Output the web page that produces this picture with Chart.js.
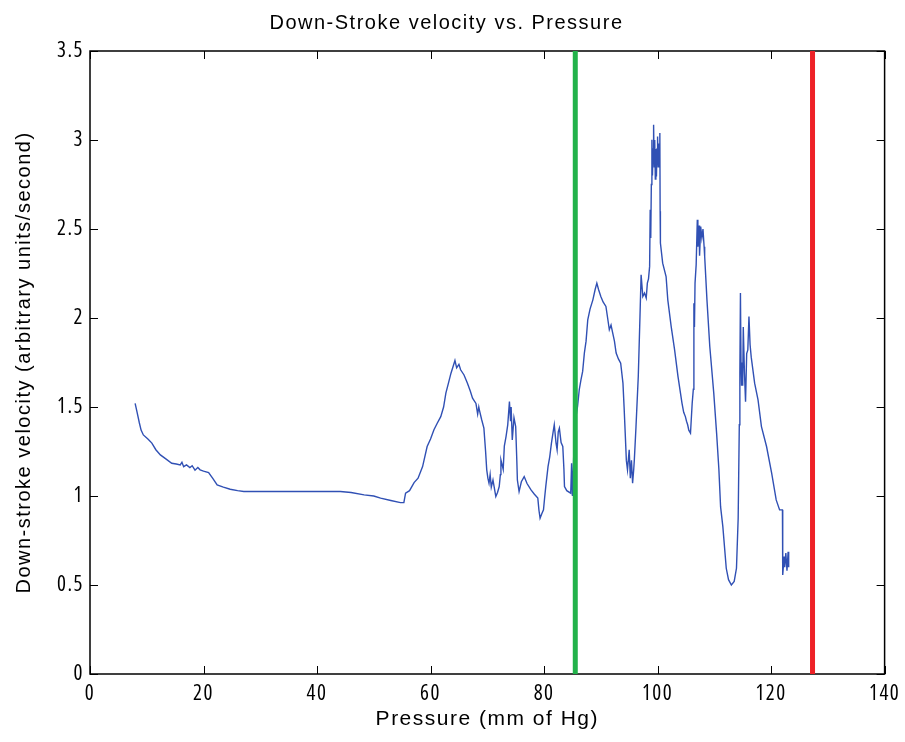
<!DOCTYPE html>
<html>
<head>
<meta charset="utf-8">
<title>Down-Stroke velocity vs. Pressure</title>
<script src="https://cdn.jsdelivr.net/npm/chart.js@4/dist/chart.umd.min.js"></script>
<style>
  html, body { margin: 0; padding: 0; background: #ffffff; }
  #wrap { width: 905px; height: 742px; }
</style>
</head>
<body>
<div id="wrap"><canvas id="velocityChart" width="905" height="742"></canvas></div>
<script>
  "use strict";

  // Pressure (mm of Hg) samples
  const pressure = [
    7.95, 8.3, 8.7, 9.0, 9.4, 10.2, 10.9, 11.6, 12.4, 13.3, 14.4, 15.2, 15.9, 16.2, 16.5, 17.0, 17.6, 18.0,
    18.5, 19.0, 19.4, 20.0, 20.9, 21.6, 22.4, 23.5, 24.7, 26.0, 27.1, 44.1, 46.0, 48.3, 50.0, 51.2, 53.0,
    54.7, 55.3, 55.6, 56.3, 57.1, 57.8, 58.6, 59.4, 60.0, 60.6, 61.2, 61.8, 62.3, 62.7, 63.2, 63.6, 64.0,
    64.3, 64.6, 65.0, 65.3, 65.9, 66.5, 67.0, 67.4, 68.0, 68.3, 68.5, 68.6, 69.0, 69.4, 69.7, 69.9, 70.1,
    70.3, 70.5, 70.7, 71.0, 71.2, 71.5, 71.8, 72.1, 72.3, 72.4, 72.8, 73.0, 73.3, 73.6, 73.9, 74.1, 74.2,
    74.4, 74.7, 75.0, 75.2, 75.3, 75.6, 76.0, 76.5, 77.0, 77.7, 78.3, 78.9, 79.1, 79.3, 79.6, 79.9, 80.1,
    80.3, 80.7, 81.0, 81.3, 81.6, 81.8, 82.1, 82.3, 82.5, 82.7, 83.0, 83.3, 83.5, 83.6, 84.0, 84.7, 84.85,
    85.0, 85.4, 85.9, 86.2, 86.5, 86.8, 87.1, 87.4, 87.7, 88.1, 88.6, 89.0, 89.3, 89.6, 90.0, 90.4, 90.9,
    91.2, 91.5, 91.8, 92.1, 92.4, 92.7, 93.1, 93.5, 93.9, 94.1, 94.3, 94.5, 94.7, 95.0, 95.2, 95.4, 95.6,
    95.8, 95.9, 96.2, 96.6, 96.9, 97.1, 97.4, 97.7, 98.0, 98.2, 98.4, 98.6, 98.7, 98.8, 98.9, 99.0, 99.1,
    99.2, 99.3, 99.4, 99.5, 99.6, 99.7, 99.8, 99.9, 100.0, 100.1, 100.2, 100.3, 100.4, 100.45, 100.5, 100.9,
    101.5, 101.8, 102.4, 103.0, 103.6, 104.3, 104.6, 104.9, 105.1, 105.3, 105.5, 105.8, 106.1, 106.3, 106.4,
    106.5, 106.6, 106.8, 107.0, 107.1, 107.3, 107.4, 107.6, 107.8, 108.0, 108.2, 108.3, 108.7, 109.2, 109.9,
    110.4, 110.8, 111.1, 111.5, 112.1, 112.5, 113.0, 113.5, 113.9, 114.2, 114.4, 114.5, 114.6, 114.7, 114.8,
    114.9, 115.0, 115.1, 115.3, 115.5, 115.7, 115.9, 116.1, 116.3, 116.5, 117.1, 117.7, 118.3, 119.2, 120.1,
    120.9, 121.5, 122.0, 122.05, 122.3, 122.4, 122.6, 122.8, 123.0, 123.1
  ];

  // Down-stroke velocity (arbitrary units/second)
  const velocity = [
    1.52, 1.47, 1.41, 1.37, 1.343, 1.32, 1.297, 1.26, 1.231, 1.21, 1.184, 1.18, 1.175, 1.19, 1.165, 1.175, 1.16, 1.17,
    1.145, 1.16, 1.147, 1.14, 1.132, 1.10, 1.062, 1.05, 1.038, 1.03, 1.025, 1.025, 1.02, 1.006, 1.0, 0.988, 0.975,
    0.963, 0.963, 1.016, 1.03, 1.075, 1.10, 1.165, 1.278, 1.32, 1.372, 1.41, 1.446, 1.50, 1.578, 1.64, 1.69, 1.73,
    1.761, 1.72, 1.74, 1.709, 1.68, 1.634, 1.59, 1.55, 1.52, 1.46, 1.50, 1.484, 1.43, 1.381, 1.25, 1.147, 1.10,
    1.072, 1.12, 1.05, 1.09, 1.053, 0.997, 1.02, 1.053, 1.12, 1.203, 1.15, 1.28, 1.334, 1.40, 1.531, 1.42, 1.50,
    1.315, 1.44, 1.39, 1.20, 1.09, 1.025, 1.08, 1.109, 1.07, 1.034, 1.01, 0.988, 0.92, 0.875, 0.90, 0.922, 0.99,
    1.053, 1.165, 1.22, 1.297, 1.36, 1.40, 1.30, 1.259, 1.36, 1.381, 1.30, 1.278, 1.15, 1.053, 1.03, 1.016, 1.184,
    1.0, 1.40, 1.503, 1.597, 1.653, 1.70, 1.803, 1.87, 1.99, 2.05, 2.102, 2.16, 2.196, 2.16, 2.121, 2.09, 2.065,
    2.00, 1.934, 1.96, 1.915, 1.87, 1.803, 1.77, 1.746, 1.634, 1.50, 1.353, 1.20, 1.147, 1.26, 1.10, 1.20, 1.072,
    1.15, 1.20, 1.39, 1.671, 2.008, 2.243, 2.121, 2.14, 2.112, 2.196, 2.22, 2.29, 2.608, 2.45, 2.75, 3.002, 2.80,
    2.95, 3.086, 2.85, 3.00, 2.78, 2.95, 2.795, 2.95, 3.02, 2.85, 2.98, 2.88, 3.039, 2.60, 2.421, 2.308,
    2.233, 2.102, 1.952, 1.821, 1.671, 1.522, 1.47, 1.446, 1.42, 1.40, 1.37, 1.353, 1.522, 1.60, 2.083,
    1.95, 2.196, 2.30, 2.552, 2.40, 2.52, 2.35, 2.514, 2.45, 2.50, 2.40, 2.345, 2.102, 1.84, 1.578,
    1.353, 1.15, 0.94, 0.828, 0.594, 0.53, 0.50, 0.52, 0.594, 0.875, 1.40, 1.69, 2.14, 1.75, 1.62,
    1.75, 1.62, 1.95, 1.70, 1.53, 1.80, 1.821, 2.008, 1.85, 1.78, 1.634, 1.540, 1.39, 1.278, 1.128,
    0.978, 0.922, 0.922, 0.556, 0.66, 0.60, 0.68, 0.58, 0.687, 0.60
  ];

  // Threshold markers (mm of Hg)
  const greenMarker = 85.5;
  const redMarker = 127.3;

  // Axis tick values
  const xTicks = [0, 20, 40, 60, 80, 100, 120, 140];
  const yTicks = [0, 0.5, 1, 1.5, 2, 2.5, 3, 3.5];

  // Tall, narrow digits like the MATLAB export ("condensed" picks the narrow Open Sans width)
  const tickFont = { family: "'Open Sans', 'Liberation Sans', sans-serif", size: 21, weight: "condensed" };
  const labelFamily = "'Liberation Sans', Arial, sans-serif";

  // Loose letter spacing of the old figure text
  const looseText = {
    id: "looseText",
    beforeDraw: function (chart) {
      chart.ctx.letterSpacing = "1.5px";
    },
  };

  // MATLAB-like box with inward tick marks on all four sides
  const matlabFrame = {
    id: "matlabFrame",
    beforeDatasetsDraw: function (chart) {
      const ctx = chart.ctx;
      const area = chart.chartArea;
      const xs = chart.scales.x;
      const ys = chart.scales.y;
      const len = 8;
      ctx.save();
      ctx.strokeStyle = "#000000";
      ctx.lineWidth = 1;
      ctx.beginPath();
      xTicks.forEach((v) => {
        const px = Math.round(xs.getPixelForValue(v)) + 0.5;
        ctx.moveTo(px, area.bottom);
        ctx.lineTo(px, area.bottom - len);
        ctx.moveTo(px, area.top);
        ctx.lineTo(px, area.top + len);
      });
      yTicks.forEach((v) => {
        const py = Math.round(ys.getPixelForValue(v)) + 0.5;
        ctx.moveTo(area.left, py);
        ctx.lineTo(area.left + len, py);
        ctx.moveTo(area.right, py);
        ctx.lineTo(area.right - len, py);
      });
      ctx.stroke();
      ctx.lineWidth = 1.5;
      ctx.strokeRect(area.left, area.top, area.right - area.left, area.bottom - area.top);
      ctx.restore();
    },
  };

  const ctx = document.getElementById("velocityChart");

  new Chart(ctx, {
    type: "line",
    data: {
      datasets: [
        {
          label: "Down-stroke velocity",
          data: pressure.map((p, i) => ({ x: p, y: velocity[i] })),
          borderColor: "#3050b4",
          borderWidth: 1.4,
          pointRadius: 0,
          tension: 0,
          fill: false,
          order: 2,
        },
        {
          label: "Green marker",
          data: [{ x: greenMarker, y: 0 }, { x: greenMarker, y: 3.5 }],
          borderColor: "#22b24a",
          borderWidth: 5,
          pointRadius: 0,
          order: 1,
        },
        {
          label: "Red marker",
          data: [{ x: redMarker, y: 0 }, { x: redMarker, y: 3.5 }],
          borderColor: "#ee2127",
          borderWidth: 5,
          pointRadius: 0,
          order: 1,
        },
      ],
    },
    options: {
      responsive: false,
      animation: false,
      devicePixelRatio: 1,
      layout: { padding: { left: 8, right: 20, top: 0, bottom: 8 } },
      plugins: {
        legend: { display: false },
        tooltip: { enabled: false },
        title: {
          display: true,
          text: "Down-Stroke velocity vs. Pressure",
          color: "#000000",
          font: { family: labelFamily, size: 20, weight: "normal" },
          padding: { top: 11, bottom: 16 },
        },
      },
      scales: {
        x: {
          type: "linear",
          min: 0,
          max: 140,
          grid: { display: false, drawTicks: false },
          border: { display: false },
          ticks: {
            stepSize: 20,
            padding: 7,
            color: "#000000",
            font: tickFont,
            maxRotation: 0,
            callback: (v) => String(v),
          },
          title: {
            display: true,
            text: "Pressure (mm of Hg)",
            color: "#000000",
            font: { family: labelFamily, size: 21 },
            padding: { top: 0, bottom: 2 },
          },
          afterFit: (scale) => { scale.height = 60; },
        },
        y: {
          type: "linear",
          min: 0,
          max: 3.5,
          grid: { display: false, drawTicks: false },
          border: { display: false },
          ticks: {
            stepSize: 0.5,
            padding: 6,
            color: "#000000",
            font: tickFont,
            callback: (v) => String(v),
          },
          title: {
            display: true,
            text: "Down-stroke velocity (arbitrary units/second)",
            color: "#000000",
            font: { family: labelFamily, size: 20 },
            padding: { top: 4, bottom: 0 },
          },
          afterFit: (scale) => { scale.width = 82; },
        },
      },
    },
    plugins: [looseText, matlabFrame],
  });
</script>
</body>
</html>
